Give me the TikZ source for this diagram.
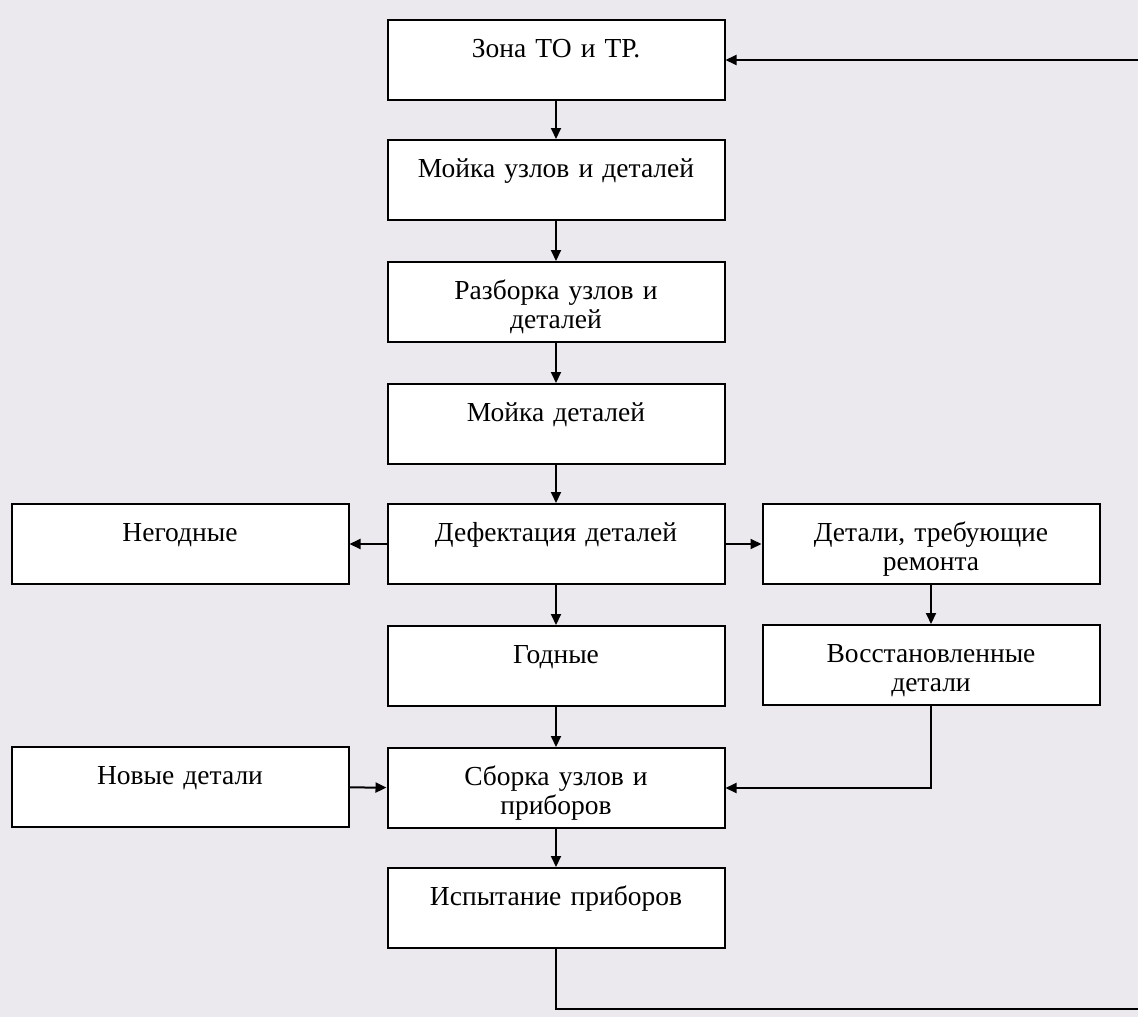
\documentclass[tikz,border=0pt]{standalone}
\usepackage{fontspec}
\setmainfont{Liberation Serif}
\usepackage{tikz}
\usetikzlibrary{arrows.meta,positioning,calc}
\definecolor{bgcol}{RGB}{235,233,238}

\begin{document}
\begin{tikzpicture}[x=1pt,y=-1pt,
  blk/.style={draw,line width=2pt,fill=white,minimum width=337pt,minimum height=80pt,
    text width=325pt,text height=37pt,text depth=43pt,align=center,inner sep=0pt,
    font=\fontsize{27.5}{29.5}\selectfont},
  arr/.style={line width=2pt,-{Triangle[length=11pt,width=10pt]}}]
\clip (0,0) rectangle (1138,1017);
\fill[bgcol] (0,0) rectangle (1138,1017);

\node[blk] (zona) at (556,60) {Зона ТО и ТР.};
\node[blk] (moika1) at (556,180) {Мойка узлов и деталей};
\node[blk] (razb) at (556,302) {Разборка узлов и\\деталей};
\node[blk] (moika2) at (556,424) {Мойка деталей};
\node[blk] (defekt) at (556,544) {Дефектация деталей};
\node[blk] (godn) at (556,666) {Годные};
\node[blk] (sborka) at (556,788) {Сборка узлов и\\приборов};
\node[blk] (ispyt) at (556,908) {Испытание приборов};

\node[blk] (negod) at (180,544) {Негодные};
\node[blk] (novye) at (180,787) {Новые детали};
\node[blk] (remont) at (931,544) {Детали, требующие\\ремонта};
\node[blk] (vosst) at (931,665) {Восстановленные\\детали};

\coordinate (back) at (1150,1009);

\draw[arr] (zona) -- (moika1);
\draw[arr] (moika1) -- (razb);
\draw[arr] (razb) -- (moika2);
\draw[arr] (moika2) -- (defekt);
\draw[arr] (defekt) -- (godn);
\draw[arr] (defekt) -- (negod);
\draw[arr] (defekt) -- (remont);
\draw[arr] (remont) -- (vosst);
\draw[arr] (godn) -- (sborka);
\draw[arr] (novye) -- (sborka);
\draw[arr] (vosst.south) |- (sborka.east);
\draw[arr] (sborka) -- (ispyt);
\draw[arr] (ispyt.south) |- (back) |- (zona.east);
\end{tikzpicture}
\end{document}
